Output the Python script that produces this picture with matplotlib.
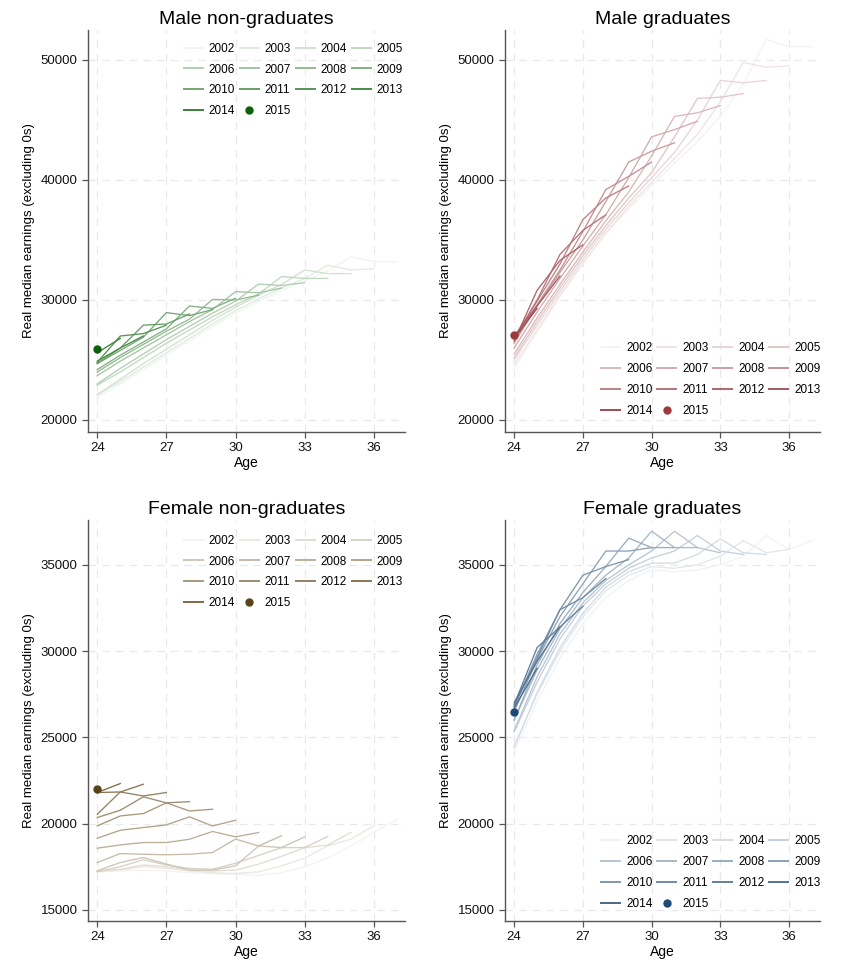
import numpy as np
import matplotlib.pyplot as plt
from matplotlib.colors import to_rgb

plt.rcParams['font.family'] = ['Liberation Sans', 'DejaVu Sans']

cohorts = list(range(2002, 2016))
first_age = 24

# real median earnings by cohort (year turned 24), one value per age from 24
male_nongrad = [
    [21900, 23000, 24200, 25400, 26600, 27800, 28900, 29900, 30800, 31600, 32400, 33600, 33200, 33200],
    [22100, 23200, 24400, 25600, 26800, 28000, 29100, 30100, 31000, 31800, 32900, 32500, 32600],
    [22100, 23400, 24700, 25900, 27100, 28300, 29400, 30400, 31300, 32500, 32200, 32200],
    [22900, 24000, 25200, 26400, 27500, 28600, 29600, 30500, 31950, 31800, 31800],
    [23000, 24300, 25500, 26700, 27800, 28900, 29900, 31330, 31200, 31450],
    [23700, 24900, 26000, 27100, 28200, 29200, 30700, 30600, 31000],
    [24000, 25200, 26300, 27400, 28400, 30050, 30000, 30400],
    [24200, 25400, 26500, 27600, 29500, 29300, 30150],
    [24700, 25800, 26900, 28950, 28700, 29200],
    [24700, 26000, 27900, 28000, 28830],
    [24800, 27000, 27200, 27900],
    [24900, 26000, 27000],
    [25600, 26800],
    [25900],
]

male_grad = [
    [24300, 27300, 30300, 33000, 35500, 37600, 39500, 41400, 43200, 45300, 48000, 51700, 51100, 51100],
    [24600, 27500, 30400, 33100, 35600, 37800, 39800, 41800, 43800, 46500, 49800, 49400, 49500],
    [25000, 27900, 30700, 33400, 35900, 38100, 40200, 42300, 45000, 48300, 48100, 48300],
    [25200, 28200, 31000, 33700, 36200, 38500, 40600, 43600, 46800, 46900, 47200],
    [25500, 28500, 31300, 34000, 36600, 39000, 42000, 45300, 45600, 46200],
    [26000, 29000, 31800, 34500, 37100, 40200, 43600, 44200, 44900],
    [26400, 29500, 32300, 35000, 38200, 41500, 42400, 43100],
    [26500, 29600, 32500, 35700, 39200, 40300, 41500],
    [26700, 29900, 33000, 36700, 38500, 39500],
    [26800, 30000, 33800, 35800, 37100],
    [26600, 30800, 33300, 34600],
    [27000, 29500, 32000],
    [26800, 29300],
    [27100],
]

female_nongrad = [
    [17200, 17250, 17300, 17250, 17150, 17100, 17050, 17000, 17150, 17500, 18000, 18700, 19480, 20250],
    [17200, 17300, 17500, 17400, 17250, 17150, 17100, 17200, 17550, 18000, 18700, 19090, 19865],
    [17250, 17350, 17600, 17500, 17300, 17250, 17300, 17650, 18100, 18600, 18750, 19480],
    [17200, 17500, 17900, 17600, 17400, 17350, 17700, 18150, 18600, 18610, 19250],
    [17260, 17740, 18030, 17650, 17300, 17300, 17550, 18700, 18610, 19230],
    [17740, 18260, 18220, 18190, 18220, 18320, 19100, 18700, 19290],
    [18570, 18760, 18900, 18900, 19090, 19540, 19230, 19480],
    [19150, 19610, 19770, 19920, 20390, 19860, 20190],
    [19865, 20440, 20580, 21200, 20730, 20830],
    [20350, 20770, 21550, 21200, 21270],
    [20540, 21830, 21600, 21800],
    [21800, 21830, 22280],
    [21800, 22320],
    [22030],
]

female_grad = [
    [24200, 27100, 29600, 31600, 33100, 34100, 34700, 34600, 34700, 35000, 35500, 36700, 35900, 36400],
    [24500, 27500, 30000, 32000, 33500, 34400, 34900, 34800, 35000, 35500, 36400, 35700, 35900],
    [24400, 27600, 30200, 32200, 33700, 34600, 35100, 35100, 35600, 36500, 35700, 35600],
    [25300, 28200, 30700, 32600, 33900, 34800, 35400, 35800, 36700, 35800, 35600],
    [25400, 28500, 31000, 32800, 34100, 35000, 35800, 36950, 36000, 35700],
    [26000, 28900, 31300, 33100, 34400, 35400, 36950, 36000, 36000],
    [26000, 29200, 31600, 33400, 34900, 36550, 36000, 36000],
    [26500, 29500, 32000, 33900, 35800, 35800, 36000],
    [26800, 29800, 32400, 34400, 34900, 35300],
    [26800, 29600, 32400, 33100, 34200],
    [26900, 30200, 31400, 32600],
    [27000, 29400, 31400],
    [26700, 29000],
    [26460],
]

W, H = 848, 966
fig = plt.figure(figsize=(W / 100, H / 100), dpi=100)


def px_axes(x0, y0, x1, y1):
    return fig.add_axes([x0 / W, 1 - y1 / H, (x1 - x0) / W, (y1 - y0) / H])


def shade(base, w):
    b = np.array(to_rgb(base))
    return tuple(1 - w * (1 - b))


def draw_panel(ax, data, base, dot, title, ylim, yticks, legend_loc, anchor):
    n = len(cohorts)
    handles = []
    for i, (yr, vals) in enumerate(zip(cohorts, data)):
        ages = np.arange(first_age, first_age + len(vals))
        if len(vals) == 1:
            h, = ax.plot(ages, vals, 'o', color=dot, ms=5, label=str(yr), zorder=5)
        else:
            w = 0.07 + 0.80 * i / (n - 2)
            h, = ax.plot(ages, vals, '-', color=shade(base, w), lw=0.95, label=str(yr), zorder=3)
        handles.append(h)

    ax.set_xlim(23.6, 37.35)
    ax.set_ylim(*ylim)
    ax.set_xticks([24, 27, 30, 33, 36])
    ax.set_yticks(yticks)
    ax.set_axisbelow(True)
    ax.grid(True, ls=(0, (6, 5)), color='#e8e8e8', lw=0.9)
    for s in ['top', 'right']:
        ax.spines[s].set_visible(False)
    for s in ['left', 'bottom']:
        ax.spines[s].set_color('#555555')
        ax.spines[s].set_linewidth(1.0)
    ax.tick_params(direction='out', length=4, width=0.9, color='#555555',
                   labelsize=9.5, labelcolor='#111111')
    ax.set_xlabel('Age', fontsize=10, labelpad=1)
    ax.set_ylabel('Real median earnings (excluding 0s)', fontsize=9.5, labelpad=4)
    ax.set_title(title, fontsize=14, pad=4)

    # stata fills legend rows first
    order = [0, 4, 8, 12, 1, 5, 9, 13, 2, 6, 10, 3, 7, 11]
    hs = [handles[k] for k in order]
    leg = ax.legend(hs, [h.get_label() for h in hs], loc=legend_loc, bbox_to_anchor=anchor,
                    ncol=4, frameon=False, fontsize=8.5, handlelength=1.6, handletextpad=0.5,
                    columnspacing=0.4, labelspacing=0.75, borderaxespad=0)
    for ln in leg.get_lines():
        ln.set_linewidth(1.4)


ax1 = px_axes(88, 30, 405, 432)
draw_panel(ax1, male_nongrad, '#1b6e1b', '#0b600b', 'Male non-graduates',
           (19000, 52500), [20000, 30000, 40000, 50000], 'upper right', (1.008, 0.98))

ax2 = px_axes(505, 30, 820, 432)
draw_panel(ax2, male_grad, '#8f3038', '#9a3a3a', 'Male graduates',
           (19000, 52500), [20000, 30000, 40000, 50000], 'lower right', (1.016, 0.026))

ax3 = px_axes(88, 520, 405, 921)
draw_panel(ax3, female_nongrad, '#6e5428', '#5a4218', 'Female non-graduates',
           (14350, 37600), [15000, 20000, 25000, 30000, 35000], 'upper right', (1.008, 0.975))

ax4 = px_axes(505, 520, 820, 921)
draw_panel(ax4, female_grad, '#2b5278', '#1a4a78', 'Female graduates',
           (14350, 37600), [15000, 20000, 25000, 30000, 35000], 'lower right', (1.016, 0.016))

fig.savefig('out.png', dpi=100, facecolor='white')
